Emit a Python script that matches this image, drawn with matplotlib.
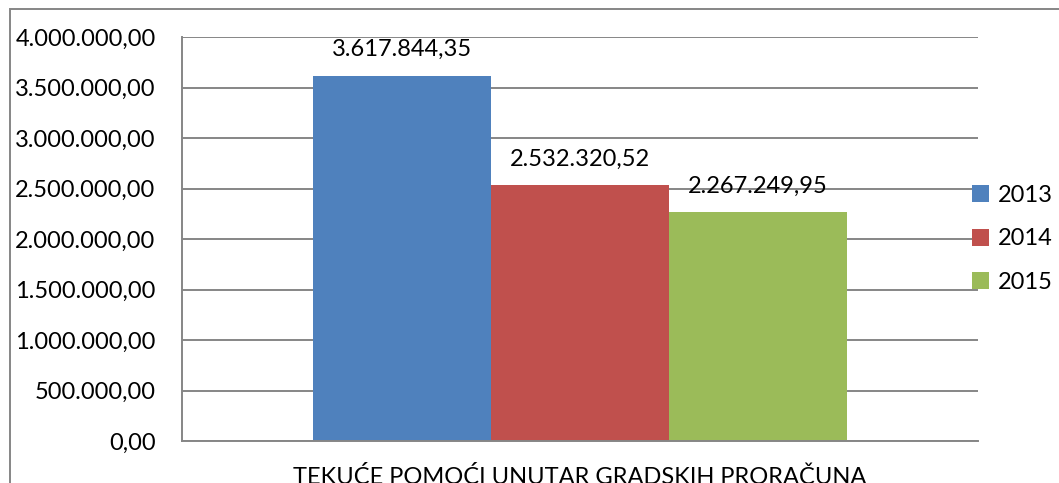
import matplotlib
matplotlib.use("Agg")
import matplotlib.pyplot as plt
from matplotlib.patches import Rectangle

category = "TEKUĆE POMOĆI UNUTAR GRADSKIH PRORAČUNA"
years = ["2013", "2014", "2015"]
values = [3617844.35, 2532320.52, 2267249.95]
colors = ["#4F81BD", "#C0504D", "#9BBB59"]
yticks = [0, 500000, 1000000, 1500000, 2000000, 2500000, 3000000, 3500000, 4000000]

def fmt(v):
    s = f"{v:,.2f}"
    return s.replace(",", "X").replace(".", ",").replace("X", ".")

plt.rcParams["font.family"] = ["Lato", "DejaVu Sans"]
W, H = 1059, 483
fig = plt.figure(figsize=(W / 100, H / 100), dpi=100)
ax = fig.add_axes([182 / W, 1 - 441 / H, (978 - 182) / W, (441 - 37) / H])

grid_c = "#868686"
bw = 0.2233
offsets = [-bw, 0, bw]
for yr, v, c, o in zip(years, values, colors, offsets):
    ax.bar(o, v, width=bw, color=c, label=yr, zorder=3)
    ax.annotate(fmt(v), (o, v), xytext=(0, 11), textcoords="offset points",
                ha="center", va="bottom", fontsize=17, color="black")

ax.set_xlim(-0.5, 0.5)
ax.set_ylim(0, 4000000)
ax.set_yticks(yticks)
ax.set_yticklabels([fmt(t) for t in yticks], fontsize=17)
ax.set_xticks([0])
ax.set_xticklabels([category], fontsize=17)
ax.tick_params(axis="both", length=0)
ax.tick_params(axis="y", pad=19)
ax.tick_params(axis="x", pad=18)
ax.grid(axis="y", color=grid_c, linewidth=1.4, zorder=0)
for s in ["top", "right"]:
    ax.spines[s].set_visible(False)
for s in ["left", "bottom"]:
    ax.spines[s].set_color(grid_c)
    ax.spines[s].set_linewidth(1.4)
    ax.spines[s].set_zorder(4)

leg = ax.legend(loc="center left", bbox_to_anchor=(0.98, 0.5), frameon=False,
                fontsize=17, handlelength=0.75, handleheight=0.75,
                handletextpad=0.35, labelspacing=0.95, borderaxespad=0)

fig.patches.append(Rectangle((10 / W, -0.1), 1.2, 1 - 9 / H + 0.1,
                             transform=fig.transFigure, fill=False,
                             edgecolor=grid_c, linewidth=1.4))

fig.savefig("out.png", dpi=100)
